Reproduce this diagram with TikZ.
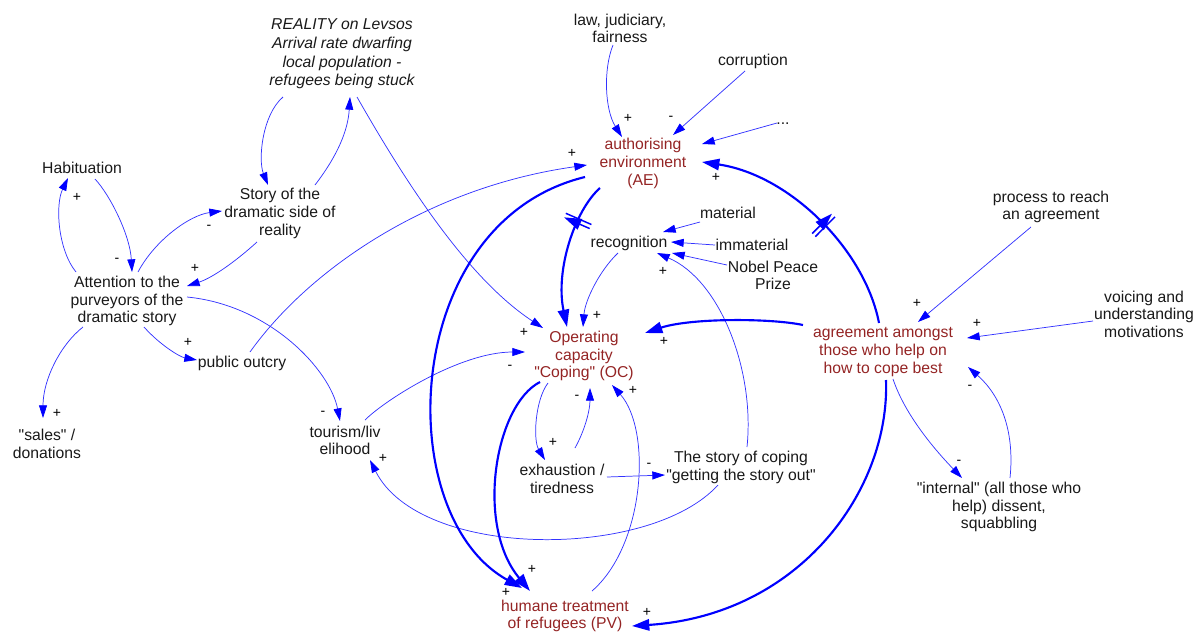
\documentclass[tikz,border=0pt]{standalone}
\usepackage{fontspec}
\setmainfont{Liberation Sans}[Ligatures=TeXOff]
\usetikzlibrary{arrows.meta,decorations.markings}
\definecolor{linkblue}{rgb}{0,0,1}
\definecolor{thinblue}{rgb}{0.2,0.2,1}
\definecolor{keyred}{rgb}{0.58,0.14,0.14}
\definecolor{inkgray}{rgb}{0.1,0.1,0.1}

\tikzset{
  var/.style={align=center, inner sep=0pt, text=inkgray,
    font=\fontsize{11.8}{13.2}\selectfont},
  keyvar/.style={var, text=keyred},
  pol/.style={inner sep=0pt, text=black, font=\fontsize{10.5}{10.5}\selectfont},
  thin link/.style={draw=thinblue, line width=0.55pt,
    -{Triangle[length=9.5pt,width=6pt,color=linkblue]}},
  thick link/.style={draw=linkblue, line width=1.6pt,
    -{Triangle[length=13pt,width=8.5pt]}},
  delay at/.style={postaction={decorate, decoration={markings,
    mark=at position #1 with {\draw[linkblue, line width=1.1pt]
      (-2.2,-14) -- (-2.2,14) (2.2,-14) -- (2.2,14);}}}},
}

\begin{document}
\begin{tikzpicture}[x=0.75pt, y=-0.75pt]
\useasboundingbox (0,0) rectangle (1203,633);

% ---------- variables ----------
\node[var, font=\fontsize{11.8}{13.9}\selectfont\itshape] (R) at (342,54)
  {REALITY on Levsos\\Arrival rate dwarfing\\local population -\\refugees being stuck};
\node[var] (Law)   at (620,28.5) {law, judiciary,\\fairness};
\node[var] (Cor)   at (753,61)   {corruption};
\node[var] (Dots)  at (783,124)  {...};
\node[keyvar] (AE) at (643,163.5) {authorising\\environment\\(AE)};
\node[var] (Hab)   at (82,168)   {Habituation};
\node[var] (Story) at (280,213.5) {Story of the\\dramatic side of\\reality};
\node[var] (Att)   at (127,301)  {Attention to the\\purveyors of the\\dramatic story};
\node[var] (Mat)   at (728,213)  {material};
\node[var] (Rec)   at (629,243)  {recognition};
\node[var] (Imm)   at (752,245)  {immaterial};
\node[var] (Nob)   at (773,275.5) {Nobel Peace\\Prize};
\node[var] (Proc)  at (1051,207) {process to reach\\an agreement};
\node[var] (Voice) at (1144,314) {voicing and\\understanding\\motivations};
\node[keyvar] (Agr) at (883,352) {agreement amongst\\those who help on\\how to cope best};
\node[keyvar] (OC) at (584,356) {Operating\\capacity\\"Coping" (OC)};
\node[var] (Pub)   at (242,363)  {public outcry};
\node[var] (Sales) at (47,444)   {"sales" /\\donations};
\node[var] (Tour)  at (345,440.5) {tourism/liv\\elihood};
\node[var] (Exh)   at (562,479)  {exhaustion /\\tiredness};
\node[var] (SoC)   at (741,467.5) {The story of coping\\"getting the story out"};
\node[var] (Int)   at (999,507)  {"internal" (all those who\\help) dissent,\\squabbling};
\node[keyvar] (Hum) at (565,616) {humane treatment\\of refugees (PV)};

% ---------- thin causal links ----------
\draw[thin link] ([shift={(-59,43)}]R.center) .. controls (262,115) and (258,160) .. ([shift={(-12,-28.5)}]Story.center);
\draw[thin link] ([shift={(35,-28.5)}]Story.center) .. controls (338,155) and (348,130) .. ([shift={(8,43)}]R.center);
\draw[thin link] ([shift={(15,43)}]R.center) .. controls (410,190) and (470,280) .. ([shift={(-41,-28)}]OC.center);
\draw[thin link] ([shift={(13,11)}]Hab.center) .. controls (110,195) and (130,235) .. ([shift={(5,-29)}]Att.center);
\draw[thin link] ([shift={(-51,-29)}]Att.center) .. controls (58,250) and (55,205) .. ([shift={(-14,10)}]Hab.center);
\draw[thin link] ([shift={(11,-29)}]Att.center) .. controls (155,240) and (190,215) .. ([shift={(-58,-2.5)}]Story.center);
\draw[thin link] ([shift={(-23,28.5)}]Story.center) .. controls (235,262) and (212,278) .. ([shift={(60,-15)}]Att.center);
\draw[thin link] ([shift={(17,26)}]Att.center) .. controls (160,345) and (180,357) .. ([shift={(-45,-3)}]Pub.center);
\draw[thin link] ([shift={(-44,26)}]Att.center) .. controls (60,345) and (43,380) .. ([shift={(-4,-26)}]Sales.center);
\draw[thin link] ([shift={(60,-4)}]Att.center) .. controls (270,305) and (330,370) .. ([shift={(-5,-19.5)}]Tour.center);
\draw[thin link] ([shift={(8,-11)}]Pub.center) .. controls (310,268) and (430,187) .. ([shift={(-56,1.5)}]AE.center);
\draw[thin link] ([shift={(20,-20.5)}]Tour.center) .. controls (385,400) and (460,352) .. ([shift={(-59,-4)}]OC.center);
\draw[thin link] ([shift={(-23,17.5)}]SoC.center) .. controls (650,560) and (420,560) .. ([shift={(25,19.5)}]Tour.center);
\draw[thin link] ([shift={(-7,16.5)}]Law.center) .. controls (603,70) and (605,110) .. ([shift={(-21,-26.5)}]AE.center);
\draw[thin link] ([shift={(-8,10)}]Cor.center) -- ([shift={(30,-28.5)}]AE.center);
\draw[thin link] ([shift={(-6,-1)}]Dots.center) -- ([shift={(59,-19.5)}]AE.center);
\draw[thin link] ([shift={(27,-25)}]Hum.center) .. controls (645,545) and (652,430) .. ([shift={(28,29)}]OC.center);
\draw[thin link] ([shift={(-36,27)}]OC.center) .. controls (535,400) and (533,440) .. ([shift={(-17,-19)}]Exh.center);
\draw[thin link] ([shift={(13,-31)}]Exh.center) .. controls (585,430) and (590,410) .. ([shift={(6,32)}]OC.center);
\draw[thin link] ([shift={(45,-2)}]Exh.center) -- ([shift={(-76,7.5)}]SoC.center);
\draw[thin link] ([shift={(6,-20.5)}]SoC.center) .. controls (755,370) and (720,280) .. ([shift={(28,10)}]Rec.center);
\draw[thin link] ([shift={(-11,10)}]Rec.center) .. controls (600,270) and (585,300) .. ([shift={(-1,-29)}]OC.center);
\draw[thin link] ([shift={(-28,9)}]Mat.center) -- ([shift={(34,-11)}]Rec.center);
\draw[thin link] ([shift={(-37,0)}]Imm.center) -- ([shift={(42,-1)}]Rec.center);
\draw[thin link] ([shift={(-46,-10.5)}]Nob.center) -- ([shift={(43,10)}]Rec.center);
\draw[thin link] ([shift={(-20,20)}]Proc.center) -- ([shift={(35,-30)}]Agr.center);
\draw[thin link] ([shift={(-51,7)}]Voice.center) -- ([shift={(84,-14)}]Agr.center);
\draw[thin link] ([shift={(10,27)}]Agr.center) .. controls (905,415) and (935,450) .. ([shift={(-37,-29)}]Int.center);
\draw[thin link] ([shift={(11,-29)}]Int.center) .. controls (1015,430) and (1000,395) .. ([shift={(85,15)}]Agr.center);

% ---------- thick causal links ----------
\draw[thick link, delay at=0.45] ([shift={(-4,-29)}]Agr.center) .. controls (865,250) and (790,175) .. ([shift={(59,-1.5)}]AE.center);
\draw[thick link, delay at=0.27] ([shift={(-43,24.5)}]AE.center) .. controls (575,210) and (555,270) .. ([shift={(-17,-29)}]OC.center);
\draw[thick link] ([shift={(-58,13.5)}]AE.center) .. controls (400,222) and (390,515) .. ([shift={(-43,-28)}]Hum.center);
\draw[thick link] ([shift={(-44,26)}]OC.center) .. controls (495,405) and (475,525) .. ([shift={(-35,-25)}]Hum.center);
\draw[thick link] ([shift={(-80,-27)}]Agr.center) .. controls (770,318) and (690,318) .. ([shift={(61,-23)}]OC.center);
\draw[thick link] ([shift={(3,28)}]Agr.center) .. controls (890,490) and (800,615) .. ([shift={(67,10)}]Hum.center);

% ---------- link polarities ----------
\node[pol] (p1)  at (117,260) {-};
\node[pol] (p2)  at (77,197)  {+};
\node[pol] (p3)  at (209,227) {-};
\node[pol] (p4)  at (195,268) {+};
\node[pol] (p5)  at (188,342) {+};
\node[pol] (p6)  at (57,413)  {+};
\node[pol] (p7)  at (323,413) {-};
\node[pol] (p8)  at (572,153) {+};
\node[pol] (p9)  at (524,332) {+};
\node[pol] (p10) at (510,367) {-};
\node[pol] (p11) at (383,458) {+};
\node[pol] (p12) at (628,118) {+};
\node[pol] (p13) at (671,118) {-};
\node[pol] (p14) at (716,177) {+};
\node[pol] (p15) at (597,315) {+};
\node[pol] (p16) at (506,592) {+};
\node[pol] (p17) at (532,569) {+};
\node[pol] (p18) at (633,390) {+};
\node[pol] (p19) at (553,442) {+};
\node[pol] (p20) at (577,397) {-};
\node[pol] (p21) at (649,465) {-};
\node[pol] (p22) at (663,271) {+};
\node[pol] (p23) at (664,341) {+};
\node[pol] (p24) at (647,612) {+};
\node[pol] (p25) at (917,303) {+};
\node[pol] (p26) at (977,323) {+};
\node[pol] (p27) at (959,462) {-};
\node[pol] (p28) at (970,387) {-};
\end{tikzpicture}
\end{document}
